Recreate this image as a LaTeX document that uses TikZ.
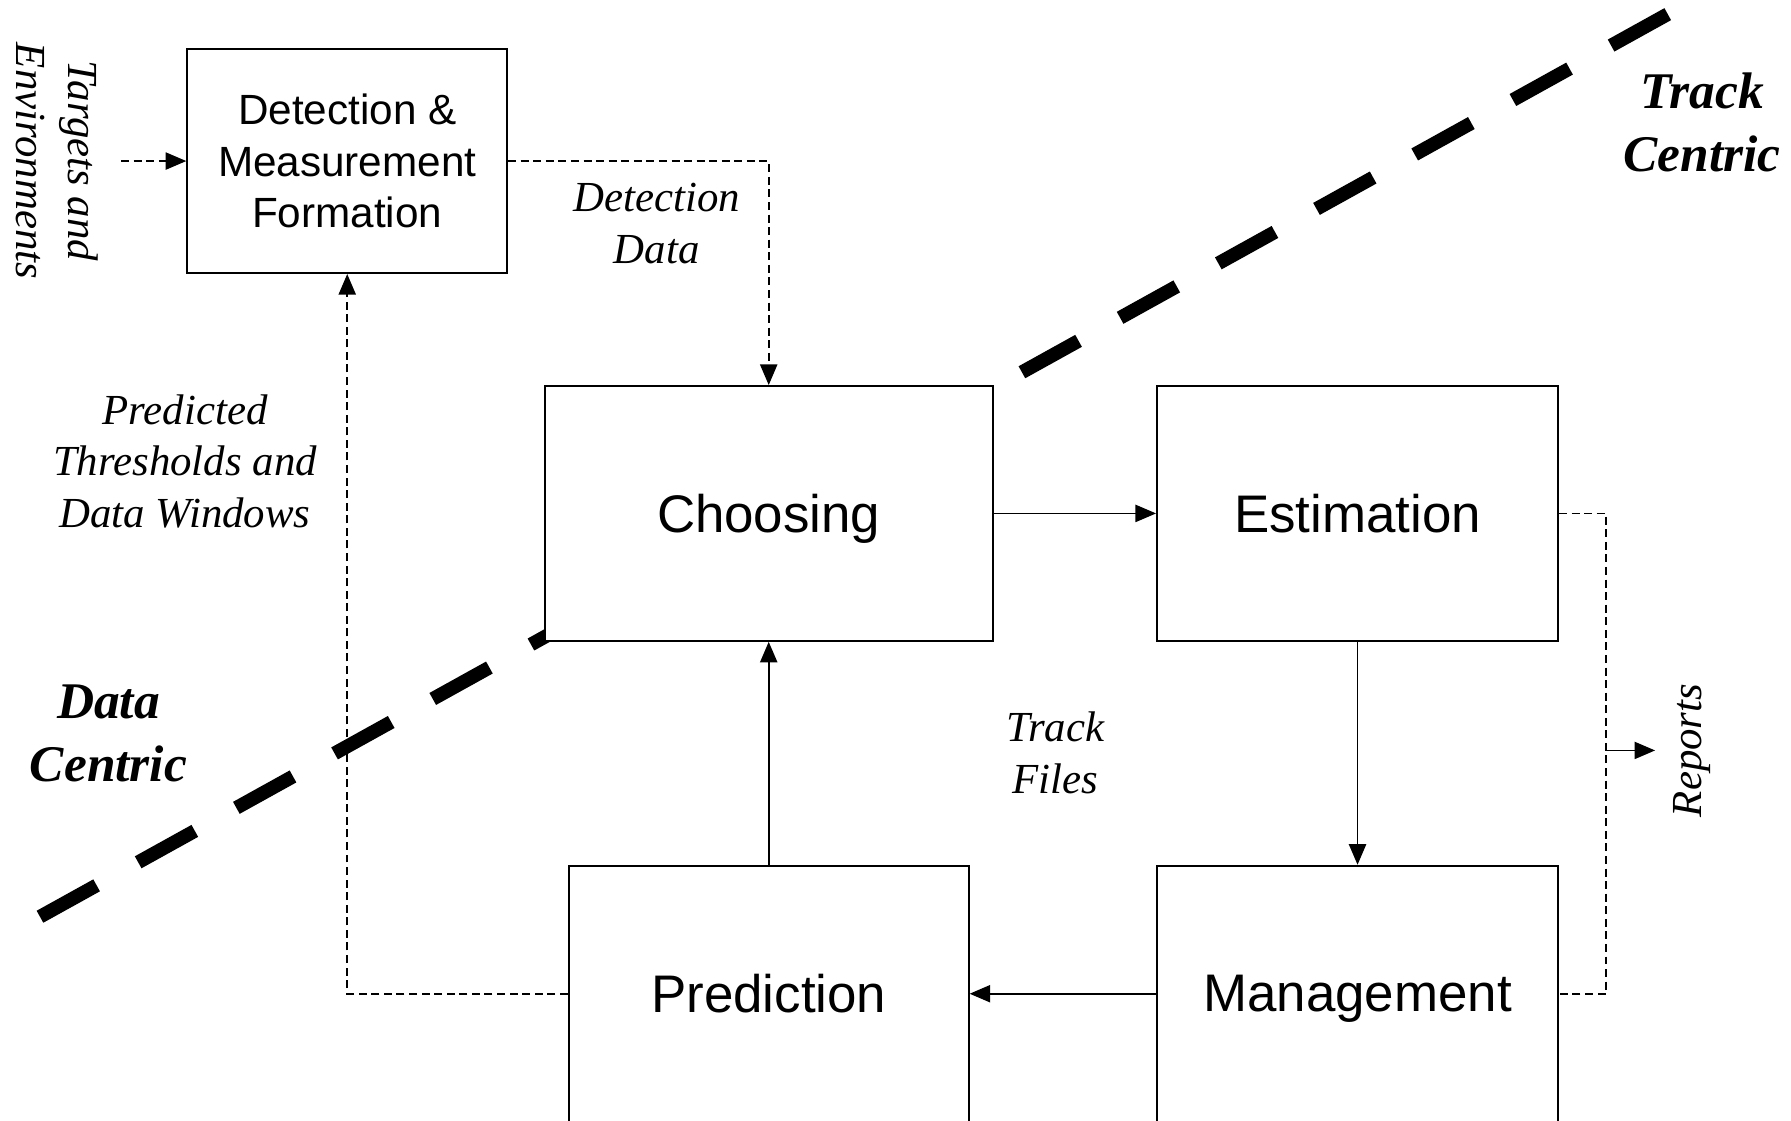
\documentclass[tikz,border=0pt]{standalone}
\usepackage{fontspec}
\setmainfont{Liberation Serif}
\newfontfamily\sansf{Liberation Sans}
\usetikzlibrary{arrows.meta}
\begin{document}
\begin{tikzpicture}[x=1pt,y=-1pt,
  box/.style={draw, line width=1.8pt, fill=white, inner sep=0pt, text depth=0pt,
    font=\sansf\fontsize{46.3}{52}\selectfont},
  smallbox/.style={box, align=center, text depth=, font=\sansf\fontsize{37}{45.3}\selectfont},
  tip/.style={-{Triangle[length=18pt,width=15pt]}},
  flow/.style={line width=1.6pt, tip},
  data/.style={line width=1.4pt, dash pattern=on 7pt off 4pt},
  dataflow/.style={data, tip},
  note/.style={font=\itshape\fontsize{37.5}{45.5}\selectfont, align=center, inner sep=0pt},
  zone/.style={font=\bfseries\itshape\fontsize{45}{55}\selectfont, align=center, inner sep=0pt},
  divider/.style={line width=12pt, dash pattern=on 56.7pt off 41.6pt}
]
\useasboundingbox (0,0) rectangle (1568,981);
\clip (0,0) rectangle (1568,981);

% boundary between the data-centric and track-centric parts
\coordinate (dvA) at (35,802.6);
\coordinate (dvB) at (1460.6,12.1);
\draw[divider] (dvA) -- (dvB);

% processing blocks
\node[smallbox, minimum width=280pt, minimum height=196pt] (det) at (304,141)
  {Detection \&\\Measurement\\Formation};
\node[box, minimum width=392pt, minimum height=223pt] (cho) at (673,449.5) {Choosing};
\node[box, minimum width=351pt, minimum height=223pt] (est) at (1188.5,449.5) {Estimation};
\node[box, minimum width=350pt, minimum height=224pt] (pre) at (673,870) {Prediction};
\node[box, minimum width=351pt, minimum height=224pt] (mgt) at (1188.5,870) {Management};

% helper points
\coordinate (src) at (106,141);
\coordinate (rp) at (1406,657);
\coordinate (out) at (1449,657);

% track loop
\draw[flow] (cho.east) -- (est.west);
\draw[flow] (est.south) -- (mgt.north);
\draw[flow] (mgt.west) -- (pre.east);
\draw[flow] (pre.north) -- (cho.south);

% data paths
\draw[dataflow] (src) -- (det.west);
\draw[dataflow] (det.east) -| (cho.north);
\draw[dataflow] (pre.west) -| (det.south);
\draw[data] (est.east) -| (rp) |- (mgt.east);
\draw[line width=1.5pt, tip] (rp) -- (out);

% labels
\node[note, rotate=-90] (lblsrc) at (50,141) {Targets and\\Environments};
\node[note] (lbldet) at (575,196) {Detection\\Data};
\node[note] (lblpred) at (162,404) {Predicted\\Thresholds and\\Data Windows};
\node[note] (lbltf) at (924,659) {Track\\Files};
\node[note, rotate=90] (lblrep) at (1481,657) {Reports};
\node[zone] (lbltc) at (1490,107) {Track\\Centric};
\node[zone] (lbldc) at (95,642) {Data\\Centric};
\end{tikzpicture}
\end{document}
